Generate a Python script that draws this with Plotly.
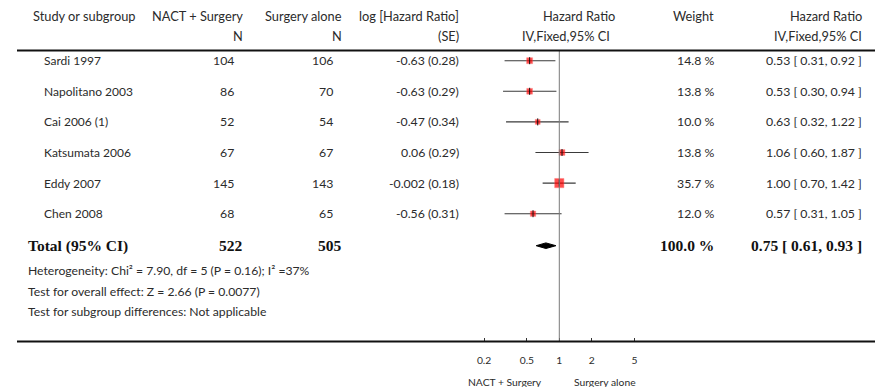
import plotly.graph_objects as go

# ---- data ----
studies = ["Sardi 1997", "Napolitano 2003", "Cai 2006 (1)", "Katsumata 2006", "Eddy 2007", "Chen 2008"]
n_nact = [104, 86, 52, 67, 145, 68]
n_surgery = [106, 70, 54, 67, 143, 65]
log_hr = ["-0.63", "-0.63", "-0.47", "0.06", "-0.002", "-0.56"]
se = [0.28, 0.29, 0.34, 0.29, 0.18, 0.31]
weight = [14.8, 13.8, 10.0, 13.8, 35.7, 12.0]
hr = [0.53, 0.53, 0.63, 1.06, 1.00, 0.57]
hr_low = [0.31, 0.30, 0.32, 0.60, 0.70, 0.31]
hr_high = [0.92, 0.94, 1.22, 1.87, 1.42, 1.05]

total_nact = 522
total_surgery = 505
total_weight = 100.0
total_hr = 0.75
total_low = 0.61
total_high = 0.93

tick_vals = [0.2, 0.5, 1, 2, 5]
tick_text = ["0.2", "0.5", "1", "2", "5"]

heterogeneity = "Heterogeneity: Chi² = 7.90, df = 5 (P = 0.16); I² =37%"
overall = "Test for overall effect: Z = 2.66 (P = 0.0077)"
subgroup = "Test for subgroup differences: Not applicable"

# ---- layout helpers (pixel geometry of the page) ----
W, H = 881, 387
FONT = "Lato"
SERIF = "Liberation Serif"
TXT = "#2b2b2b"

row_y0, row_dy = 60.7, 30.6
row_y = [row_y0 + row_dy * i for i in range(len(studies))]
total_y = 245.7
axis_y = 341.5
top_rule_y = 50.5

# log axis: x = 1 sits at pixel 559.3, one decade is 107.6 px
px_one, px_decade = 559.3, 107.6
x_range = [-px_one / px_decade, (W - px_one) / px_decade]


def px(x):
    return x / W


def py(y):
    return 1 - y / H


annotations = []


def text(x, y, s, anchor="left", size=12.3, font=FONT, bold=False, color=TXT):
    if bold:
        s = f"<b>{s}</b>"
    annotations.append(dict(
        x=px(x), y=py(y), xref="paper", yref="paper", text=s, showarrow=False,
        xanchor=anchor, yanchor="middle", align=anchor,
        font=dict(family=font, size=size, color=color),
    ))


# header
hdr1, hdr2 = 15.7, 36
hs = 12.8
text(31, hdr1, "Study or subgroup", size=hs)
text(245, hdr1, "NACT + Surgery", "right", size=hs)
text(245, hdr2, "N", "right", size=hs)
text(344, hdr1, "Surgery alone", "right", size=hs)
text(344, hdr2, "N", "right", size=hs)
text(461, hdr1, "log [Hazard Ratio]", "right", size=hs)
text(461, hdr2, "(SE)", "right", size=hs)
text(579, hdr1, "Hazard Ratio", "center", size=hs)
text(566, hdr2, "IV,Fixed,95% CI", "center", size=hs)
text(716, hdr1, "Weight", "right", size=hs)
text(864, hdr1, "Hazard Ratio", "right", size=hs)
text(864, hdr2, "IV,Fixed,95% CI", "right", size=hs)

# study rows
for i, name in enumerate(studies):
    y = row_y[i]
    text(42, y, name, size=12)
    text(236, y, str(n_nact[i]), "right")
    text(335, y, str(n_surgery[i]), "right")
    text(461, y, f"{log_hr[i]} ({se[i]:.2f})", "right")
    text(716, y, f"{weight[i]:.1f} %", "right")
    text(864, y, f"{hr[i]:.2f} [ {hr_low[i]:.2f}, {hr_high[i]:.2f} ]", "right")

# total row
tsize = 15.5
text(26, total_y, "Total (95% CI)", size=tsize, font=SERIF, bold=True, color="#111")
text(245, total_y, str(total_nact), "right", size=tsize, font=SERIF, bold=True, color="#111")
text(344, total_y, str(total_surgery), "right", size=tsize, font=SERIF, bold=True, color="#111")
text(716, total_y, f"{total_weight:.1f} %", "right", size=tsize, font=SERIF, bold=True, color="#111")
text(864, total_y, f"{total_hr:.2f} [ {total_low:.2f}, {total_high:.2f} ]", "right",
     size=tsize, font=SERIF, bold=True, color="#111")

# footnotes
fs = 12.2
text(26, 270, heterogeneity, size=fs)
text(26, 291.7, overall, size=fs)
text(26, 311.7, subgroup, size=fs)

# axis side labels
text(505, 381.7, "NACT + Surgery", "center", size=10.3)
text(605, 381.7, "Surgery alone", "center", size=10.3)

fig = go.Figure()

# confidence intervals
fig.add_trace(go.Scatter(
    x=hr, y=row_y, mode="markers",
    marker=dict(size=0.1, color="rgba(0,0,0,0)"),
    error_x=dict(type="data", symmetric=False,
                 array=[h - m for h, m in zip(hr_high, hr)],
                 arrayminus=[m - l for m, l in zip(hr, hr_low)],
                 color="#3a3a3a", thickness=1.1, width=0),
    hoverinfo="skip", showlegend=False,
))

# weighted squares
sizes = [1.55 * w ** 0.5 for w in weight]
fig.add_trace(go.Scatter(
    x=hr, y=row_y, mode="markers",
    marker=dict(symbol="square", size=sizes, color="#ff0000",
                line=dict(color="rgba(255,80,80,0.5)", width=1)),
    showlegend=False,
))
# point estimate ticks
fig.add_trace(go.Scatter(
    x=hr, y=row_y, mode="markers",
    marker=dict(symbol="line-ns", size=5, line=dict(color="#111", width=1)),
    showlegend=False, hoverinfo="skip",
))

# pooled diamond
dh = 2.8
fig.add_trace(go.Scatter(
    x=[total_low, total_hr, total_high, total_hr, total_low],
    y=[total_y, total_y - dh, total_y, total_y + dh, total_y],
    mode="lines", fill="toself", fillcolor="#000", line=dict(color="#000", width=1),
    showlegend=False,
))

shapes = [
    # line of no effect
    dict(type="line", xref="x", yref="y", x0=1, x1=1, y0=top_rule_y, y1=axis_y,
         line=dict(color="#7a7a7a", width=1)),
    # top and bottom rules
    dict(type="line", xref="paper", yref="paper", x0=px(17), x1=px(875),
         y0=py(top_rule_y), y1=py(top_rule_y), line=dict(color="#111", width=1.8)),
    dict(type="line", xref="paper", yref="paper", x0=px(17), x1=px(875),
         y0=py(axis_y), y1=py(axis_y), line=dict(color="#111", width=1.8)),
]

fig.update_layout(
    width=W, height=H, margin=dict(l=0, r=0, t=0, b=0),
    paper_bgcolor="white", plot_bgcolor="rgba(0,0,0,0)",
    annotations=annotations, shapes=shapes,
    xaxis=dict(type="log", range=x_range, domain=[0, 1],
               tickvals=tick_vals, ticktext=tick_text,
               ticks="inside", ticklen=4, tickcolor="#333", tickwidth=1,
               showline=False, showgrid=False, zeroline=False,
               ticklabelstandoff=11,
               tickfont=dict(family=FONT, size=10.3, color=TXT)),
    yaxis=dict(range=[axis_y, 0], domain=[1 - axis_y / H, 1],
               showticklabels=False, showgrid=False, zeroline=False, showline=False),
    hovermode=False,
)

fig.write_html("out.html")
